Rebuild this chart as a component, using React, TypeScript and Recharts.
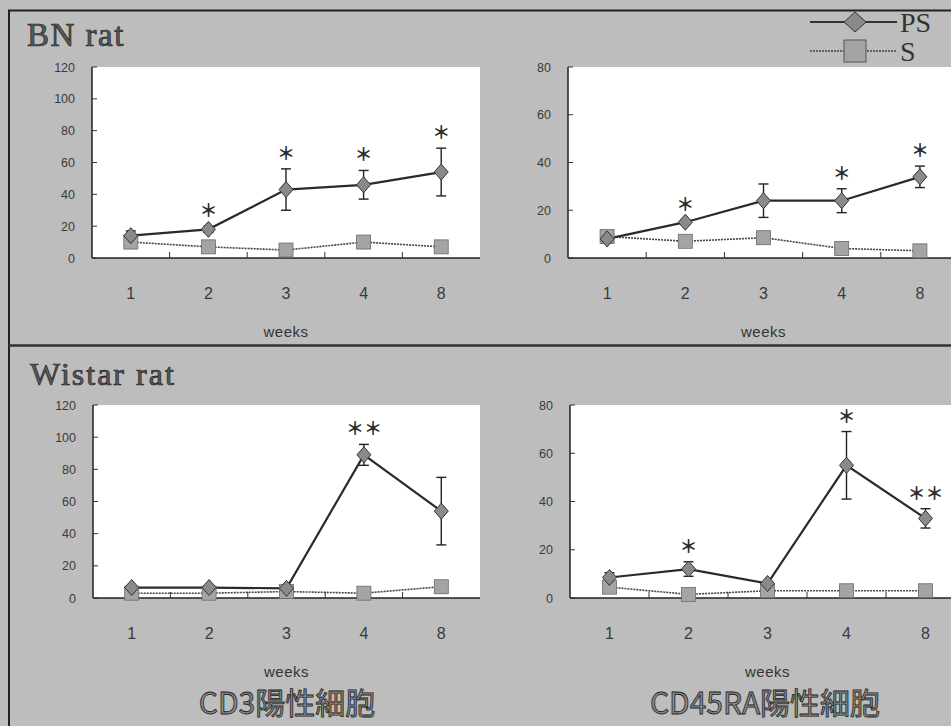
import React from "react";
import {
  CartesianGrid,
  ComposedChart,
  ErrorBar,
  Legend,
  Line,
  XAxis,
  YAxis,
} from "recharts";

// x categories (weeks after sensitisation)
const weeks = ["1", "2", "3", "4", "8"];

// BN rat, CD3 positive cells
const bnCd3Ps = [14, 18, 43, 46, 54];
const bnCd3PsErr = [3, 2, 13, 9, 15];
const bnCd3S = [10, 7, 5, 10, 7];
const bnCd3Sig = ["", "＊", "＊", "＊", "＊"];

// BN rat, CD45RA positive cells
const bnCd45Ps = [8, 15, 24, 24, 34];
const bnCd45PsErr = [1, 1, 7, 5, 4.5];
const bnCd45S = [9, 7, 8.5, 4, 3];
const bnCd45Sig = ["", "＊", "", "＊", "＊"];

// Wistar rat, CD3 positive cells
const wiCd3Ps = [6.5, 6.5, 6, 89, 54];
const wiCd3PsErr = [1, 1, 1, 6.5, 21];
const wiCd3S = [3, 3, 4, 3, 7];
const wiCd3Sig = ["", "", "", "＊＊", ""];

// Wistar rat, CD45RA positive cells
const wiCd45Ps = [8.5, 12, 6, 55, 33];
const wiCd45PsErr = [2, 3, 0.5, 14, 4];
const wiCd45S = [4.5, 1.5, 3, 3, 3];
const wiCd45Sig = ["", "＊", "", "＊", "＊＊"];

const ticks120 = [0, 20, 40, 60, 80, 100, 120];
const ticks80 = [0, 20, 40, 60, 80];
const xTicks = [1, 1.5, 2, 2.5, 3, 3.5, 4, 4.5, 5];

const SANS = "Liberation Sans, Arial, sans-serif";
const SERIF = "Liberation Serif, Times New Roman, serif";
const CJK = "Noto Sans CJK JP, sans-serif";
const BG = "#bdbdbd";

function buildRows(ps: number[], err: number[], s: number[], sig: string[]) {
  return weeks.map((w, i) => ({
    pos: i + 1,
    week: w,
    ps: ps[i],
    psErr: err[i],
    s: s[i],
    starAt: ps[i] + err[i],
    sig: sig[i],
  }));
}

const XTick = (props: any) => {
  const { x, y, payload } = props;
  const v = payload.value;
  if (Number.isInteger(v)) {
    return (
      <text x={x} y={y + 41} textAnchor="middle" fontSize={16} fill="#3a3a3a" fontFamily={SANS}>
        {weeks[v - 1]}
      </text>
    );
  }
  // short inward tick between categories
  return <line x1={x} x2={x} y1={y} y2={y - 6} stroke="#333" strokeWidth={1} />;
};

const YTick = (props: any) => {
  const { x, y, payload } = props;
  return (
    <g>
      <line x1={x} x2={x + 5} y1={y} y2={y} stroke="#333" strokeWidth={1} />
      <text x={x - 17} y={y + 4.5} textAnchor="end" fontSize={12.5} fill="#3a3a3a" fontFamily={SANS}>
        {payload.value}
      </text>
    </g>
  );
};

const Diamond = (props: any) => {
  const { cx, cy, index } = props;
  if (cx == null || cy == null) return <g key={`pd-${index}`} />;
  return (
    <polygon
      key={`pd-${index}`}
      points={`${cx},${cy - 8} ${cx + 7},${cy} ${cx},${cy + 8} ${cx - 7},${cy}`}
      fill="#8a8a8a"
      stroke="#333"
      strokeWidth={1}
    />
  );
};

const Square = (props: any) => {
  const { cx, cy, index } = props;
  if (cx == null || cy == null) return <g key={`sq-${index}`} />;
  return (
    <rect
      key={`sq-${index}`}
      x={cx - 7}
      y={cy - 7}
      width={14}
      height={14}
      fill="#a4a4a4"
      stroke="#6a6a6a"
      strokeWidth={0.8}
    />
  );
};

// significance marks sit a fixed distance above the top of the error bar
const Star = (props: any) => {
  const { cx, cy, index, payload } = props;
  if (!payload?.sig) return <g key={`st-${index}`} />;
  return (
    <text
      key={`st-${index}`}
      x={cx}
      y={cy - 17}
      textAnchor="middle"
      dominantBaseline="central"
      fontSize={18}
      fontWeight={700}
      fill="#2a2a2a"
      fontFamily={CJK}
      style={{ opacity: 0.99 }}
    >
      {payload.sig}
    </text>
  );
};

const LegendBox = (props: any) => {
  const items = (props.payload || []).filter((p: any) => p.value === "PS" || p.value === "S");
  return (
    <svg width={150} height={64}>
      {items.map((p: any, i: number) => {
        const cy = 16 + i * 29;
        const isPs = p.value === "PS";
        return (
          <g key={p.value}>
            <line
              x1={0}
              x2={87}
              y1={cy}
              y2={cy}
              stroke={isPs ? "#333" : "#444"}
              strokeWidth={isPs ? 2 : 1.6}
              strokeDasharray={isPs ? undefined : "2 1"}
            />
            {isPs ? (
              <polygon
                points={`45,${cy - 10} 56,${cy} 45,${cy + 10} 34,${cy}`}
                fill="#8a8a8a"
                stroke="#333"
                strokeWidth={1}
              />
            ) : (
              <rect x={34} y={cy - 11} width={22} height={22} fill="#a4a4a4" stroke="#555" strokeWidth={1} />
            )}
            <text x={90} y={cy + 10} fontSize={28} fontFamily={SERIF} fill="#333">
              {p.value}
            </text>
          </g>
        );
      })}
    </svg>
  );
};

type PanelProps = {
  rows: ReturnType<typeof buildRows>;
  yMax: number;
  yTicks: number[];
  left: number;
  top: number;
  width: number;
  height: number;
  margin: { top: number; right: number; bottom: number; left: number };
  legend?: boolean;
};

function Panel({ rows, yMax, yTicks, left, top, width, height, margin, legend }: PanelProps) {
  return (
    <div style={{ position: "absolute", left, top }}>
      <ComposedChart width={width} height={height} data={rows} margin={margin}>
        <CartesianGrid horizontal={false} vertical={false} fill="#ffffff" fillOpacity={1} stroke="none" />
        <XAxis
          dataKey="pos"
          type="number"
          domain={[0.5, 5.5]}
          ticks={xTicks}
          interval={0}
          height={88}
          tickSize={0}
          tickMargin={0}
          tick={<XTick />}
          axisLine={{ stroke: "#222", strokeWidth: 1.5 }}
          tickLine={false}
          label={{
            value: "weeks",
            position: "insideBottom",
            offset: 9,
            fontSize: 15,
            fill: "#333",
            fontFamily: SANS,
            letterSpacing: 0.5,
          }}
        />
        <YAxis
          type="number"
          domain={[0, yMax]}
          ticks={yTicks}
          interval={0}
          width={60}
          tickSize={0}
          tickMargin={0}
          tick={<YTick />}
          axisLine={{ stroke: "#222", strokeWidth: 1.5 }}
          tickLine={false}
        />
        {legend && (
          <Legend
            layout="vertical"
            align="center"
            verticalAlign="middle"
            content={<LegendBox />}
            wrapperStyle={{ left: 320, top: 6, width: 150, height: 64 }}
          />
        )}
        <Line
          dataKey="s"
          name="S"
          stroke="#444"
          strokeWidth={1.6}
          strokeDasharray="2 1"
          dot={Square}
          activeDot={false}
          isAnimationActive={false}
        />
        <Line
          dataKey="ps"
          name="PS"
          stroke="#2a2a2a"
          strokeWidth={2.2}
          dot={Diamond}
          activeDot={false}
          isAnimationActive={false}
        >
          <ErrorBar dataKey="psErr" width={5} stroke="#222" strokeWidth={1.4} direction="y" isAnimationActive={false} />
        </Line>
        <Line
          dataKey="starAt"
          name="sig"
          stroke="none"
          dot={Star}
          activeDot={false}
          legendType="none"
          isAnimationActive={false}
        />
      </ComposedChart>
    </div>
  );
}

export default function App() {
  return (
    <div
      style={{
        position: "absolute",
        left: 0,
        top: 0,
        width: 951,
        height: 726,
        overflow: "hidden",
        background: BG,
      }}
    >
      <svg width={951} height={726} style={{ position: "absolute", left: 0, top: 0 }}>
        <line x1={8} x2={951} y1={10.5} y2={10.5} stroke="#222" strokeWidth={2} />
        <line x1={9} x2={9} y1={10} y2={726} stroke="#222" strokeWidth={2} />
        <line x1={8} x2={951} y1={345.5} y2={345.5} stroke="#333" strokeWidth={2.5} />
        <text x={27} y={46} fontSize={33} letterSpacing={1.5} fontFamily={SERIF} fill="#5a5a5a" stroke="#222" strokeWidth={0.7}>
          BN rat
        </text>
        <text x={30} y={385} fontSize={32} letterSpacing={2} fontFamily={SERIF} fill="#5a5a5a" stroke="#222" strokeWidth={0.7}>
          Wistar rat
        </text>
        <g style={{ opacity: 0.99 }}>
          <text x={287} y={714} fontSize={30} textAnchor="middle" fontFamily={CJK} fill="#8a8a8a" stroke="#222" strokeWidth={0.8}>
            CD3陽性細胞
          </text>
          <text x={765} y={714} fontSize={30} textAnchor="middle" fontFamily={CJK} fill="#8a8a8a" stroke="#222" strokeWidth={0.8}>
            CD45RA陽性細胞
          </text>
        </g>
      </svg>
      <Panel
        rows={buildRows(bnCd3Ps, bnCd3PsErr, bnCd3S, bnCd3Sig)}
        yMax={120}
        yTicks={ticks120}
        left={0}
        top={0}
        width={490}
        height={346}
        margin={{ top: 67, right: 10, bottom: 0, left: 32 }}
      />
      <Panel
        rows={buildRows(bnCd45Ps, bnCd45PsErr, bnCd45S, bnCd45Sig)}
        yMax={80}
        yTicks={ticks80}
        left={490}
        top={0}
        width={470}
        height={346}
        margin={{ top: 67, right: 1, bottom: 0, left: 18 }}
        legend
      />
      <Panel
        rows={buildRows(wiCd3Ps, wiCd3PsErr, wiCd3S, wiCd3Sig)}
        yMax={120}
        yTicks={ticks120}
        left={0}
        top={346}
        width={490}
        height={380}
        margin={{ top: 59, right: 10, bottom: 40, left: 33 }}
      />
      <Panel
        rows={buildRows(wiCd45Ps, wiCd45PsErr, wiCd45S, wiCd45Sig)}
        yMax={80}
        yTicks={ticks80}
        left={490}
        top={346}
        width={480}
        height={380}
        margin={{ top: 59, right: 5, bottom: 40, left: 20 }}
      />
    </div>
  );
}
